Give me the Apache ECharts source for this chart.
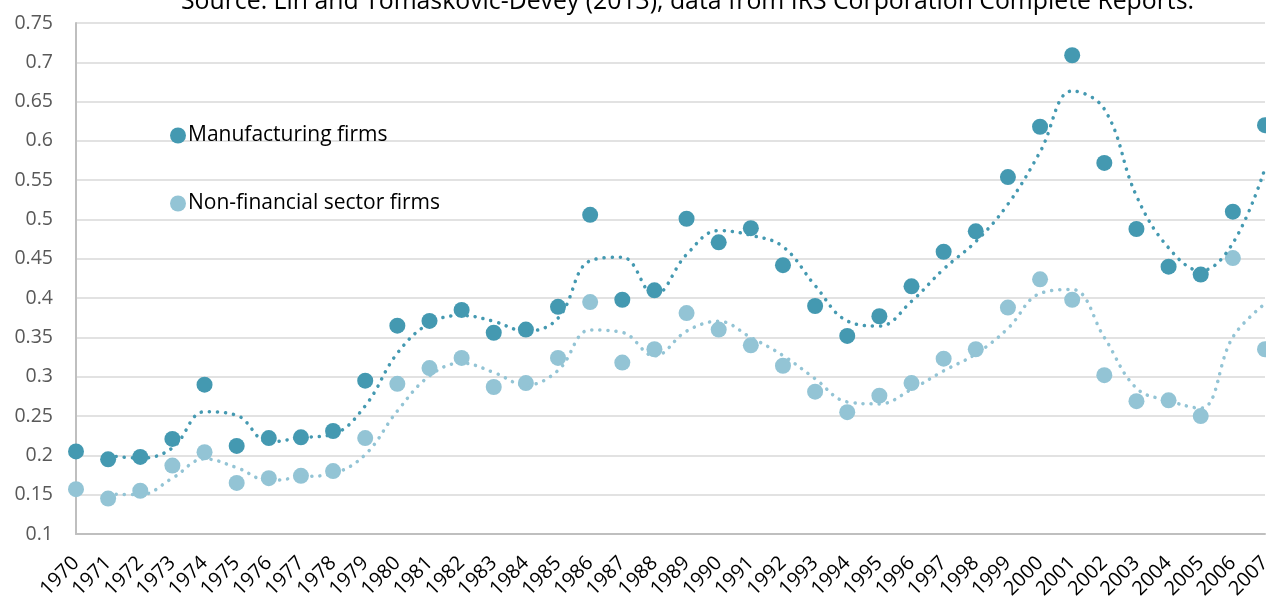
<!DOCTYPE html>
<html>
<head>
<meta charset="utf-8">
<script src="https://cdn.jsdelivr.net/npm/echarts@6/dist/echarts.min.js"></script>
<style>html,body{margin:0;padding:0;background:#fff;}#c{width:1266px;height:601px;}</style>
</head>
<body>
<div id="c"></div>
<script>
const years = ['1970','1971','1972','1973','1974','1975','1976','1977','1978','1979','1980','1981','1982','1983','1984','1985','1986','1987','1988','1989','1990','1991','1992','1993','1994','1995','1996','1997','1998','1999','2000','2001','2002','2003','2004','2005','2006','2007'];
const manufacturing = [0.205,0.195,0.198,0.221,0.290,0.212,0.222,0.223,0.231,0.295,0.365,0.371,0.385,0.356,0.360,0.389,0.506,0.398,0.410,0.501,0.471,0.489,0.442,0.390,0.352,0.377,0.415,0.459,0.485,0.554,0.618,0.709,0.572,0.488,0.440,0.430,0.510,0.620];
const nonFinancial = [0.157,0.145,0.155,0.187,0.204,0.165,0.171,0.174,0.180,0.222,0.291,0.311,0.324,0.287,0.292,0.324,0.395,0.318,0.335,0.381,0.360,0.340,0.314,0.281,0.255,0.276,0.292,0.323,0.335,0.388,0.424,0.398,0.302,0.269,0.270,0.250,0.451,0.335];
const yTicks = {min: 0.1, max: 0.75, interval: 0.05};
const titleText = 'Source: Lin and Tomaskovic-Devey (2013), data from IRS Corporation Complete Reports.';

// 2-period moving average trendline (as in the original chart)
function movingAvg(arr){ return arr.map((v,i)=> i===0 ? null : +( (arr[i-1]+v)/2 ).toFixed(4)); }

const darkC = '#4499B1', lightC = '#93C4D5';
const chart = echarts.init(document.getElementById('c'));
chart.setOption({
  animation:false,
  title:{text:titleText, left:176, top:-16, textStyle:{fontFamily:'Open Sans', fontSize:24.8, fontWeight:'normal', color:'#000'}},
  legend:{
    orient:'vertical', left:165, top:120, itemGap:47, itemWidth:16, itemHeight:16,
    data:[{name:'Manufacturing firms', icon:'circle'},{name:'Non-financial sector firms', icon:'circle'}],
    textStyle:{fontFamily:'Open Sans', fontSize:21, color:'#000', padding:[0,0,0,-3]}
  },
  grid:{left:76, right:1, top:23, bottom:67, outerBoundsMode:'none', containLabel:false},
  xAxis:{
    type:'category', data:years, boundaryGap:false,
    axisLine:{lineStyle:{color:'#BFBFBF', width:2}},
    axisTick:{show:false},
    axisLabel:{rotate:45, interval:0, fontFamily:'Open Sans', fontSize:20, color:'#000', margin:26, hideOverlap:false},
    splitLine:{show:false}
  },
  yAxis:{
    type:'value', min:yTicks.min, max:yTicks.max, interval:yTicks.interval,
    axisLine:{show:true, lineStyle:{color:'#BFBFBF', width:2}},
    axisTick:{show:false},
    axisLabel:{fontFamily:'Open Sans', fontSize:19.5, color:'#595959', margin:23, formatter:v=>String(+v.toFixed(2))},
    splitLine:{lineStyle:{color:'#D9D9D9', width:1.5}}
  },
  series:[
    {name:'Manufacturing firms', type:'scatter', data:manufacturing, symbolSize:16, itemStyle:{color:darkC, opacity:1}, z:2},
    {name:'Non-financial sector firms', type:'scatter', data:nonFinancial, symbolSize:16, itemStyle:{color:lightC, opacity:1}, z:2},
    {name:'trendM', type:'line', data:movingAvg(manufacturing), smooth:0.4, symbol:'none', connectNulls:false,
      lineStyle:{color:darkC, width:3.5, type:[0.1,8], cap:'round'}, z:3, legendHoverLink:false},
    {name:'trendN', type:'line', data:movingAvg(nonFinancial), smooth:0.4, symbol:'none', connectNulls:false,
      lineStyle:{color:lightC, width:3.5, type:[0.1,8], cap:'round'}, z:3, legendHoverLink:false}
  ]
});
</script>
</body>
</html>
